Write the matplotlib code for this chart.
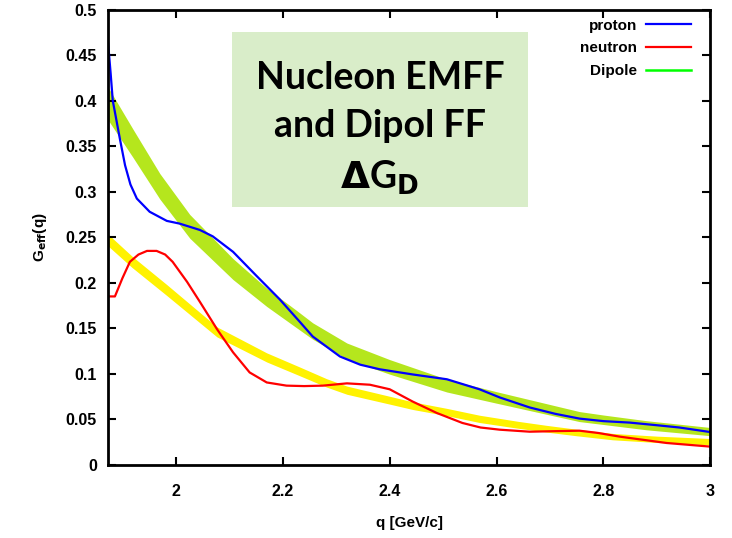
import matplotlib
matplotlib.use("Agg")
import matplotlib.pyplot as plt
from matplotlib.patches import Rectangle

# proton form factor (blue)
q_p = [1.873, 1.878, 1.882, 1.889, 1.895, 1.905, 1.915, 1.927, 1.951, 1.983,
       2.007, 2.045, 2.069, 2.107, 2.151, 2.194, 2.232, 2.256, 2.307, 2.345,
       2.381, 2.443, 2.507, 2.568, 2.606, 2.662, 2.71, 2.755, 2.80, 2.849,
       2.90, 2.942, 3.0]
g_p = [0.465, 0.43, 0.40, 0.378, 0.359, 0.329, 0.308, 0.2925, 0.278, 0.268,
       0.265, 0.258, 0.251, 0.234, 0.2075, 0.182, 0.157, 0.141, 0.119, 0.110,
       0.105, 0.0993, 0.094, 0.083, 0.074, 0.063, 0.056, 0.0508, 0.048, 0.0464,
       0.0435, 0.041, 0.036]

# neutron form factor (red)
q_n = [1.873, 1.886, 1.90, 1.914, 1.93, 1.946, 1.964, 1.98, 1.994, 2.021,
       2.045, 2.077, 2.107, 2.138, 2.170, 2.207, 2.24, 2.275, 2.32, 2.363,
       2.40, 2.443, 2.488, 2.536, 2.57, 2.606, 2.662, 2.71, 2.755, 2.79,
       2.83, 2.918, 3.0]
g_n = [0.185, 0.185, 0.205, 0.223, 0.231, 0.235, 0.235, 0.231, 0.223, 0.201,
       0.179, 0.149, 0.1236, 0.1015, 0.0905, 0.087, 0.0865, 0.087, 0.0895, 0.088,
       0.083, 0.0695, 0.057, 0.046, 0.041, 0.0386, 0.0364, 0.037, 0.0375, 0.035,
       0.031, 0.024, 0.020]

# proton dipole band (green): centre and half width
q_dp = [1.873, 1.92, 1.97, 2.026, 2.107, 2.17, 2.226, 2.256, 2.32, 2.40,
        2.507, 2.60, 2.755, 2.80, 2.88, 3.0]
c_dp = [0.397, 0.353, 0.306, 0.262, 0.215, 0.184, 0.160, 0.147, 0.125, 0.1076,
        0.087, 0.074, 0.053, 0.0495, 0.0435, 0.0365]
w_dp = [0.018, 0.0155, 0.014, 0.013, 0.0115, 0.010, 0.0095, 0.009, 0.0088, 0.008,
        0.007, 0.0063, 0.0055, 0.0052, 0.005, 0.0045]

# neutron dipole band (yellow): centre and half width
q_dn = [1.873, 1.918, 1.983, 2.077, 2.17, 2.232, 2.282, 2.32, 2.40, 2.443,
        2.507, 2.568, 2.64, 2.693, 2.75, 2.817, 2.9, 3.0]
c_dn = [0.247, 0.223, 0.192, 0.146, 0.118, 0.1026, 0.090, 0.082, 0.071, 0.065,
        0.058, 0.0505, 0.044, 0.0397, 0.0355, 0.031, 0.028, 0.0254]
w_dn = [0.0065, 0.0062, 0.006, 0.0055, 0.005, 0.0048, 0.0046, 0.0045, 0.0043, 0.0042,
        0.004, 0.004, 0.0038, 0.0037, 0.0036, 0.0035, 0.0035, 0.0035]

x_ticks = [2.0, 2.2, 2.4, 2.6, 2.8, 3.0]
x_labels = ["2", "2.2", "2.4", "2.6", "2.8", "3"]
y_ticks = [0, 0.05, 0.1, 0.15, 0.2, 0.25, 0.3, 0.35, 0.4, 0.45, 0.5]
y_labels = ["0", "0.05", "0.1", "0.15", "0.2", "0.25", "0.3", "0.35",
            "0.4", "0.45", "0.5"]

plt.rcParams["font.family"] = ["Liberation Sans", "DejaVu Sans"]
plt.rcParams["font.weight"] = "bold"

fig = plt.figure(figsize=(7.32, 5.38), dpi=100)
ax = fig.add_axes([0.1475, 0.136, 0.823, 0.846])

ax.fill_between(q_dp, [c - w for c, w in zip(c_dp, w_dp)],
                [c + w for c, w in zip(c_dp, w_dp)], color="#b5e61d", lw=0)
ax.fill_between(q_dn, [c - w for c, w in zip(c_dn, w_dn)],
                [c + w for c, w in zip(c_dn, w_dn)], color="#fff200", lw=0)
ax.plot(q_p, g_p, color="#0000ff", lw=1.6, label="proton")
ax.plot(q_n, g_n, color="#ff0000", lw=1.6, label="neutron")
ax.plot([], [], color="#00ff00", lw=1.8, label="Dipole")

ax.set_xlim(1.873, 3.0)
ax.set_ylim(0, 0.5)
ax.set_xticks(x_ticks)
ax.set_xticklabels(x_labels)
ax.set_yticks(y_ticks)
ax.set_yticklabels(y_labels)
ax.tick_params(direction="in", length=6, width=1.5, top=True, right=True,
               labelsize=11.5, colors="black")
ax.tick_params(axis="x", pad=14)
ax.tick_params(axis="y", pad=8)
for s in ax.spines.values():
    s.set_linewidth(2)

ax.set_xlabel("q [GeV/c]", fontsize=11, fontweight="bold", labelpad=12)
ax.set_ylabel(r"G$_{\mathbf{eff}}$(q)", fontsize=11, fontweight="bold", labelpad=12)

leg = ax.legend(loc="upper right", frameon=False, markerfirst=False,
                fontsize=11, handlelength=2.9, handletextpad=0.6,
                labelspacing=0.58, borderaxespad=0.3,
                bbox_to_anchor=(0.985, 1.004))

# title box
fig.patches.append(Rectangle((0.317, 0.615), 0.404, 0.325, transform=fig.transFigure,
                             fc="#d9edc9", ec="none", zorder=5))
fig.text(0.519, 0.76, "Nucleon EMFF\nand Dipol FF\n" + r"$\Delta$G$_\mathsf{D}$",
         ha="center", va="center", fontsize=27, fontweight="bold",
         family=["Lato", "DejaVu Sans"], linespacing=1.5, zorder=6)

fig.savefig("out.png", dpi=100)
